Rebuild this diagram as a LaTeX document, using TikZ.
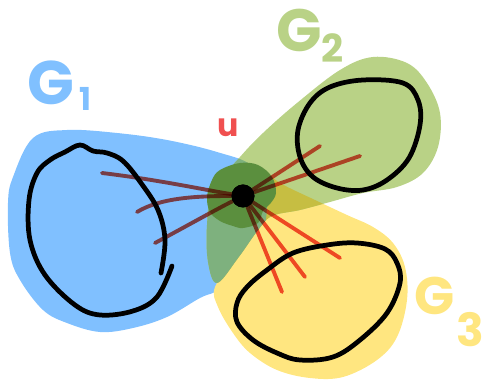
\documentclass[tikz,border=0pt]{standalone}
\usepackage{fontspec}
\newfontfamily\handfont{Poppins}
\usetikzlibrary{positioning}
\definecolor{gblue}{RGB}{128,192,255}
\definecolor{ggreen}{RGB}{185,210,134}
\definecolor{gyellow}{RGB}{255,230,128}
\definecolor{golive}{RGB}{198,190,66}
\definecolor{ggray}{RGB}{126,177,126}
\definecolor{gdark}{RGB}{91,143,62}
\definecolor{gred}{RGB}{238,82,70}
\definecolor{ured}{RGB}{240,80,80}
\tikzset{
  part/.style={black, line width=2.7pt, line cap=round, line join=round},
  edge/.style={gred, line width=2.2pt, line cap=round, blend mode=multiply},
  glabel/.style={anchor=base west, inner sep=0pt, font=\handfont\bfseries},
}
\begin{document}
\begin{tikzpicture}[x=0.02cm, y=-0.02cm]
  \useasboundingbox (0,0) rectangle (491,381);

  % ============ the three blobs ============
  \def\blueblob{plot[smooth cycle, tension=0.6] coordinates {(33,138) (67,130) (117,133) (167,140) (217,152) (252,166) (266,196) (262,235) (236,280) (215,292) (200,298) (167,317) (133,328) (100,332) (67,323) (43,310) (20,280) (10,253) (8,203) (13,177)}}
  \def\yellowblob{plot[smooth cycle, tension=0.6] coordinates {(215,287) (218,307) (233,333) (250,353) (277,370) (310,378) (343,377) (377,360) (397,337) (407,300) (405,267) (393,243) (373,227) (347,215) (315,200) (280,183) (260,168) (252,188) (258,222) (237,256)}}
  \def\greenblob{plot[smooth cycle, tension=0.6] coordinates {(373,57) (407,63) (427,83) (440,113) (438,147) (423,173) (397,187) (363,193) (330,202) (300,210) (272,216) (258,230) (238,258) (217,283) (208,262) (207,225) (213,190) (240,157) (263,133) (297,103) (340,70)}}

  \fill[gblue] \blueblob;
  \fill[gyellow] \yellowblob;
  \fill[ggreen] \greenblob;
  \begin{scope}
    \clip \greenblob;
    \fill[golive] \yellowblob;
    \fill[ggray] \blueblob;
  \end{scope}
  \fill[gdark] plot[smooth cycle, tension=0.6] coordinates {(220,170) (240,163) (258,165) (272,177) (276,193) (270,204) (263,211) (258,223) (243,228) (233,226) (220,221) (210,212) (207,197) (212,180)};

  % ============ the parts inside ============
  \draw[part] plot[smooth, tension=0.6] coordinates {(161,273) (165,240) (158,210) (141,183) (123,161) (107,153) (93,151) (80,145) (65,152) (50,160) (37,173) (29,200) (30,240) (45,275) (75,305) (100,315) (133,311) (157,297) (172,266)};
  \draw[part] plot[smooth cycle, tension=0.6] coordinates {(363,80) (403,83) (418,100) (420,125) (409,158) (387,180) (363,190) (337,188) (313,177) (300,157) (298,130) (310,103) (330,87)};
  \draw[part] plot[smooth cycle, tension=0.6] coordinates {(237,303) (237,322) (253,340) (277,353) (300,360) (333,357) (360,340) (387,313) (400,283) (397,263) (385,249) (357,243) (327,245) (293,253) (267,270) (247,287)};

  % ============ vertex u and its edges ============
  \node[circle, fill=black, minimum size=23*0.02cm, inner sep=0pt] (u) at (243,196) {};
  \node[text=ured, font=\handfont\bfseries\fontsize{18}{18}\selectfont, anchor=base, inner sep=0pt] (ulbl) at (228,137) {u};

  \coordinate (a1) at (102,173);
  \coordinate (a2) at (137,212);
  \coordinate (a3) at (155,243);
  \coordinate (b1) at (320,146);
  \coordinate (b2) at (360,156);
  \coordinate (c1) at (282,292);
  \coordinate (c2) at (305,277);
  \coordinate (c3) at (340,258);

  \draw[edge] (a1) .. controls (160,180) and (205,190) .. (u);
  \draw[edge] (a2) .. controls (160,198) and (195,196) .. (u);
  \draw[edge] (a3) .. controls (185,227) and (215,210) .. (u);
  \draw[edge] (b1) -- (u);
  \draw[edge] (b2) -- (u);
  \draw[edge] (c1) -- (u);
  \draw[edge] (c2) -- (u);
  \draw[edge] (c3) -- (u);
  \node[circle, fill=black, minimum size=23*0.02cm, inner sep=0pt] at (u) {};

  % ============ labels ============
  \node[glabel, text=gblue] (g1) at (27,105)
    {\fontsize{35}{35}\selectfont G\hspace{3pt}\raisebox{-3pt}{\fontsize{18}{18}\selectfont 1}};
  \node[glabel, text=ggreen] (g2) at (276,52)
    {\fontsize{34}{34}\selectfont G\hspace{0pt}\raisebox{-5.7pt}{\fontsize{22}{22}\selectfont 2}};
  \node[glabel, text=gyellow] (g3) at (414,315)
    {\fontsize{30}{30}\selectfont G\hspace{1pt}\raisebox{-18pt}{\fontsize{26}{26}\selectfont 3}};
\end{tikzpicture}
\end{document}
